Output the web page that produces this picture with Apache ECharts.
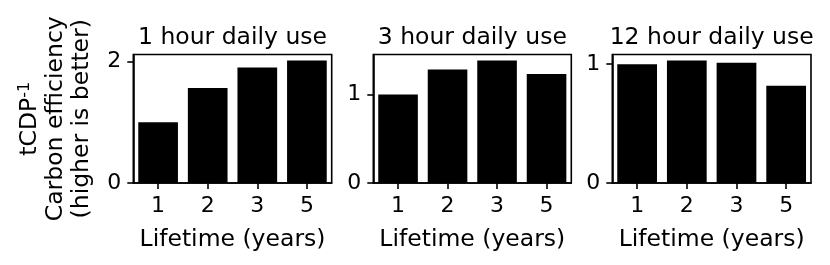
<!DOCTYPE html>
<html>
<head>
<meta charset="utf-8">
<script src="https://cdn.jsdelivr.net/npm/echarts@6/dist/echarts.min.js"></script>
<style>html,body{margin:0;padding:0;background:#fff;}#c{width:830px;height:265px;}</style>
</head>
<body>
<div id="c"></div>
<script>
const categories = ['1', '2', '3', '5'];
const titles = ['1 hour daily use', '3 hour daily use', '12 hour daily use'];
const values1h = [1.0, 1.565, 1.905, 2.017];
const values3h = [1.0, 1.283, 1.382, 1.231];
const values12h = [0.997, 1.028, 1.011, 0.817];
const yTicks1h = [0, 2];
const yTicks3h = [0, 1];
const yTicks12h = [0, 1];
const xLabel = 'Lifetime (years)';

const allValues = [values1h, values3h, values12h];
const allTicks = [yTicks1h, yTicks3h, yTicks12h];
const lefts = [133.3, 373.3, 612.3];
const widths = [198.4, 198, 198.7];
const FONT = 'DejaVu Sans';
const FS = 22;
const NFS = 23.5;

const chart = echarts.init(document.getElementById('c'), null, {renderer: 'canvas'});
const grids = [], xAxes = [], yAxes = [], series = [], tl = [];
for (let i = 0; i < 3; i++) {
  const vals = allValues[i];
  const ymax = Math.max.apply(null, vals) * 1.05;
  grids.push({left: lefts[i], top: 54.5, width: widths[i], height: 128.5, show: true,
    borderColor: '#000', borderWidth: 1.6, backgroundColor: 'transparent'});
  tl.push({text: titles[i], left: lefts[i] + widths[i] / 2, top: 26, textAlign: 'center', padding: 0,
    textStyle: {fontFamily: FONT, fontSize: NFS, fontWeight: 'normal', color: '#000'}});
  xAxes.push({type: 'category', gridIndex: i, data: categories, boundaryGap: true,
    name: xLabel, nameLocation: 'middle', nameGap: 45,
    nameTextStyle: {fontFamily: FONT, fontSize: NFS, color: '#000'},
    axisLine: {show: true, lineStyle: {color: '#000', width: 1.6}},
    axisTick: {show: true, alignWithLabel: true, length: 6, lineStyle: {color: '#000', width: 1.6}},
    axisLabel: {fontFamily: FONT, fontSize: FS, color: '#000', margin: 12},
    splitLine: {show: false}});
  const y = {type: 'value', gridIndex: i, min: 0, max: ymax,
    axisLine: {show: true, lineStyle: {color: '#000', width: 1.6}},
    axisTick: {show: true, length: 6, lineStyle: {color: '#000', width: 1.6}, customValues: allTicks[i]},
    axisLabel: {fontFamily: FONT, fontSize: FS, color: '#000', margin: 12, customValues: allTicks[i], padding: [3, 0, 0, 0]},
    splitLine: {show: false}};
  if (i === 0) {
    y.name = '{a|tCDP}{s|-1}\n{b|Carbon efficiency}\n{b|(higher is better)}';
    y.nameLocation = 'middle';
    y.nameRotate = 90;
    y.nameGap = 38;
    y.nameTextStyle = {fontFamily: FONT, fontSize: NFS, color: '#000', lineHeight: 26, align: 'center',
      rich: {a: {fontFamily: FONT, fontSize: NFS, color: '#000', lineHeight: 26},
             s: {fontFamily: FONT, fontSize: 16, color: '#000', lineHeight: 26, verticalAlign: 'top', padding: [0, 0, 12, 0]},
             b: {fontFamily: FONT, fontSize: NFS, color: '#000', lineHeight: 26}}};
  }
  yAxes.push(y);
  series.push({type: 'bar', xAxisIndex: i, yAxisIndex: i, data: vals, barWidth: '80%',
    itemStyle: {color: '#000'}, animation: false});
}
chart.setOption({animation: false, title: tl, grid: grids, xAxis: xAxes, yAxis: yAxes, series: series});
</script>
</body>
</html>
